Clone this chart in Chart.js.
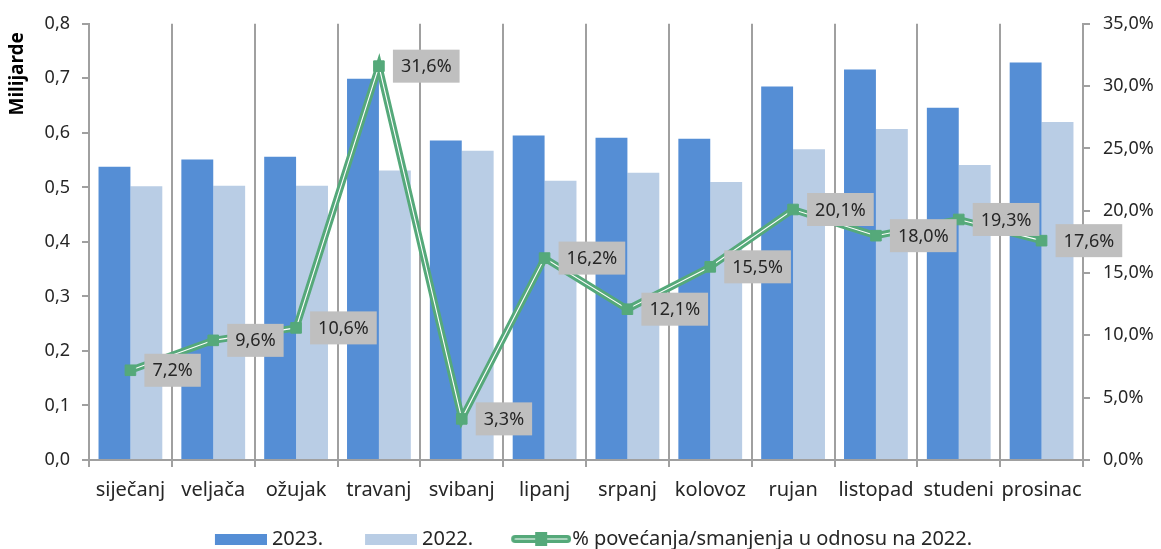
<!DOCTYPE html>
<html>
<head>
<meta charset="utf-8">
<script src="https://cdn.jsdelivr.net/npm/chart.js@4.4.1/dist/chart.umd.min.js"></script>
<style>
  html, body { margin: 0; padding: 0; background: #fff; }
  #wrap { width: 1161px; height: 549px; }
</style>
</head>
<body>
<div id="wrap"><canvas id="chart" width="1161" height="549"></canvas></div>
<script>
const months = ['siječanj', 'veljača', 'ožujak', 'travanj', 'svibanj', 'lipanj', 'srpanj', 'kolovoz', 'rujan', 'listopad', 'studeni', 'prosinac'];
const values2023 = [0.538, 0.551, 0.556, 0.699, 0.586, 0.595, 0.591, 0.589, 0.685, 0.716, 0.646, 0.729];
const values2022 = [0.502, 0.503, 0.503, 0.531, 0.567, 0.512, 0.527, 0.510, 0.570, 0.607, 0.541, 0.620];
const changePct = [7.2, 9.6, 10.6, 31.6, 3.3, 16.2, 12.1, 15.5, 20.1, 18.0, 19.3, 17.6];
const seriesNames = ['2023.', '2022.', '% povećanja/smanjenja u odnosu na 2022.'];
const axisTitle = 'Milijarde';

const FONT = '"Noto Sans", "Open Sans", sans-serif';
const BLUE = '#558ed5';
const LIGHT = '#b9cde5';
const GREEN = '#55a97a';
const AXIS = '#a0a0a0';
const TEXT = '#262626';

const fmt = (v, d) => v.toFixed(d).replace('.', ',');

// legend icons: drawn on the right part of a wider transparent canvas,
// so the gap to the label stays small while items keep their spacing
function swatch(color) {
    const c = document.createElement('canvas');
    c.width = 83; c.height = 11;
    const g = c.getContext('2d');
    g.fillStyle = color;
    g.fillRect(31, 0, 52, 11);
    return c;
}
function lineSwatch() {
    const c = document.createElement('canvas');
    c.width = 91; c.height = 16;
    const g = c.getContext('2d');
    g.strokeStyle = GREEN; g.lineWidth = 8; g.lineCap = 'round';
    g.beginPath(); g.moveTo(35, 8); g.lineTo(87, 8); g.stroke();
    g.strokeStyle = '#fff'; g.lineWidth = 1.2;
    g.beginPath(); g.moveTo(35, 8); g.lineTo(87, 8); g.stroke();
    g.fillStyle = GREEN;
    g.fillRect(55, 1, 12, 14);
    return c;
}
const legendIcons = [swatch(BLUE), swatch(LIGHT), lineSwatch()];

const pctLabels = {
    id: 'pctLabels',
    afterDatasetsDraw(chart) {
        const meta = chart.getDatasetMeta(2);
        const ctx = chart.ctx;
        const area = chart.chartArea;
        ctx.save();
        ctx.font = '18px ' + FONT;
        ctx.textBaseline = 'middle';
        ctx.textAlign = 'center';
        meta.data.forEach((pt, i) => {
            const txt = fmt(changePct[i], 1) + '%';
            const w = ctx.measureText(txt).width + 16;
            const h = 33;
            let left = pt.x + 14;
            if (left + w > area.right + 40) left = area.right + 40 - w;
            const top = pt.y - h / 2;
            ctx.fillStyle = '#bfbfbf';
            ctx.fillRect(left, top, w, h);
            ctx.fillStyle = TEXT;
            ctx.fillText(txt, left + w / 2, pt.y + 1);
        });
        ctx.restore();
    }
};

const sideTitle = {
    id: 'sideTitle',
    afterDraw(chart) {
        const ctx = chart.ctx;
        ctx.save();
        ctx.translate(18, chart.chartArea.top + 50);
        ctx.rotate(-Math.PI / 2);
        ctx.font = 'bold 19px ' + FONT;
        ctx.fillStyle = '#000';
        ctx.textAlign = 'center';
        ctx.textBaseline = 'middle';
        ctx.fillText(axisTitle, 0, 0);
        ctx.restore();
    }
};

new Chart(document.getElementById('chart'), {
    type: 'bar',
    data: {
        labels: months,
        datasets: [
            {
                label: seriesNames[0],
                data: values2023,
                backgroundColor: BLUE,
                yAxisID: 'y',
                order: 10,
                categoryPercentage: 0.77,
                barPercentage: 1.0
            },
            {
                label: seriesNames[1],
                data: values2022,
                backgroundColor: LIGHT,
                yAxisID: 'y',
                order: 10,
                categoryPercentage: 0.77,
                barPercentage: 1.0
            },
            {
                // markers of the growth line
                type: 'line',
                label: seriesNames[2],
                data: changePct,
                yAxisID: 'y2',
                showLine: false,
                pointStyle: 'rect',
                pointRadius: 7.5,
                pointBackgroundColor: GREEN,
                pointBorderColor: GREEN,
                borderColor: GREEN,
                backgroundColor: GREEN,
                order: 1
            },
            {
                type: 'line',
                label: '_green',
                data: changePct,
                yAxisID: 'y2',
                borderColor: GREEN,
                borderWidth: 7,
                pointRadius: 0,
                tension: 0,
                order: 3
            },
            {
                type: 'line',
                label: '_white',
                data: changePct,
                yAxisID: 'y2',
                borderColor: '#ffffff',
                borderWidth: 1.1,
                pointRadius: 0,
                tension: 0,
                order: 2
            }
        ]
    },
    options: {
        responsive: false,
        animation: false,
        layout: { padding: { top: 20, left: 0, right: 0, bottom: -10 } },
        plugins: {
            tooltip: { enabled: false },
            legend: {
                position: 'bottom',
                labels: {
                    usePointStyle: true,
                    pointStyleWidth: 73,
                    padding: 16,
                    color: TEXT,
                    font: { family: FONT, size: 20 },
                    sort: (a, b) => a.datasetIndex - b.datasetIndex,
                    filter: item => !item.text.startsWith('_'),
                    generateLabels(chart) {
                        const items = Chart.defaults.plugins.legend.labels.generateLabels(chart);
                        items.forEach(it => {
                            if (it.datasetIndex < 3) it.pointStyle = legendIcons[it.datasetIndex];
                        });
                        return items;
                    }
                }
            }
        },
        scales: {
            x: {
                grid: {
                    color: AXIS,
                    lineWidth: 2,
                    tickLength: 7,
                    offset: true
                },
                border: { color: AXIS, width: 2 },
                ticks: {
                    color: TEXT,
                    font: { family: FONT, size: 20 },
                    maxRotation: 0,
                    autoSkip: false,
                    padding: 11
                }
            },
            y: {
                position: 'left',
                min: 0,
                max: 0.8,
                grid: { drawOnChartArea: false, color: AXIS, lineWidth: 2, tickLength: 7 },
                border: { color: AXIS, width: 2 },
                ticks: {
                    stepSize: 0.1,
                    color: TEXT,
                    font: { family: FONT, size: 18 },
                    padding: 12,
                    callback: v => fmt(v, 1)
                },
                afterFit(scale) { scale.width = 89; }
            },
            y2: {
                position: 'right',
                min: 0,
                max: 35,
                grid: { drawOnChartArea: false, color: AXIS, lineWidth: 2, tickLength: 7 },
                border: { color: AXIS, width: 2 },
                ticks: {
                    stepSize: 5,
                    color: TEXT,
                    font: { family: FONT, size: 18 },
                    padding: 13,
                    callback: v => fmt(v, 1) + '%'
                },
                afterFit(scale) { scale.width = 78; }
            }
        }
    },
    plugins: [pctLabels, sideTitle]
});
</script>
</body>
</html>
